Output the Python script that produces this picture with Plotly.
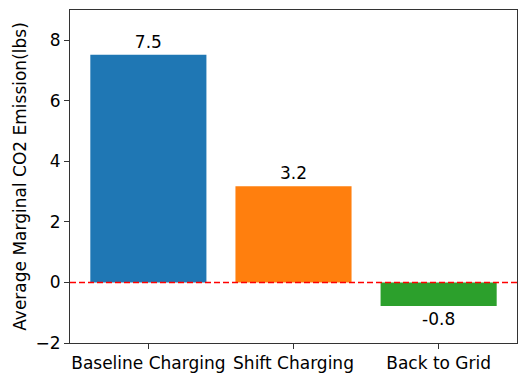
import plotly.graph_objects as go

categories = ["Baseline Charging", "Shift Charging", "Back to Grid"]
values = [7.52, 3.18, -0.78]
labels = ["7.5", "3.2", "-0.8"]
colors = ["#1f77b4", "#ff7f0e", "#2ca02c"]
y_ticks = [-2, 0, 2, 4, 6, 8]

fig = go.Figure()
fig.add_trace(go.Bar(
    x=list(range(len(categories))), y=values, width=0.8,
    marker=dict(color=colors, line=dict(width=0)),
    text=labels, textposition="outside", cliponaxis=False,
    textfont=dict(size=17, color="#000000", family="DejaVu Sans"),
))
fig.add_shape(type="line", xref="paper", x0=0, x1=1, yref="y", y0=0, y1=0,
              line=dict(color="red", width=1.5, dash="6px,3px"))
fig.update_layout(
    template="none",
    width=524, height=374,
    margin=dict(l=70, r=7, t=10, b=31),
    paper_bgcolor="white", plot_bgcolor="white",
    font=dict(family="DejaVu Sans", size=17, color="#000000"),
    showlegend=False,
    xaxis=dict(
        range=[-0.54, 2.54], tickmode="array", automargin=False,
        tickvals=list(range(len(categories))), ticktext=categories,
        showgrid=False, zeroline=False, showline=True, linecolor="#333333",
        linewidth=1, mirror=True, ticks="outside", ticklen=5, tickcolor="#333333",
        tickfont=dict(size=17),
    ),
    yaxis=dict(
        range=[-2, 9], tickvals=y_ticks, automargin=False,
        showgrid=False, zeroline=False, showline=True, linecolor="#333333",
        linewidth=1, mirror=True, ticks="outside", ticklen=5, tickcolor="#333333",
        tickfont=dict(size=17),
        title=dict(text="Average Marginal CO2 Emission(lbs)", font=dict(size=17)),
    ),
)
fig.write_html("out.html", config={"displayModeBar": False},
               post_script="document.body.style.margin='0';")
